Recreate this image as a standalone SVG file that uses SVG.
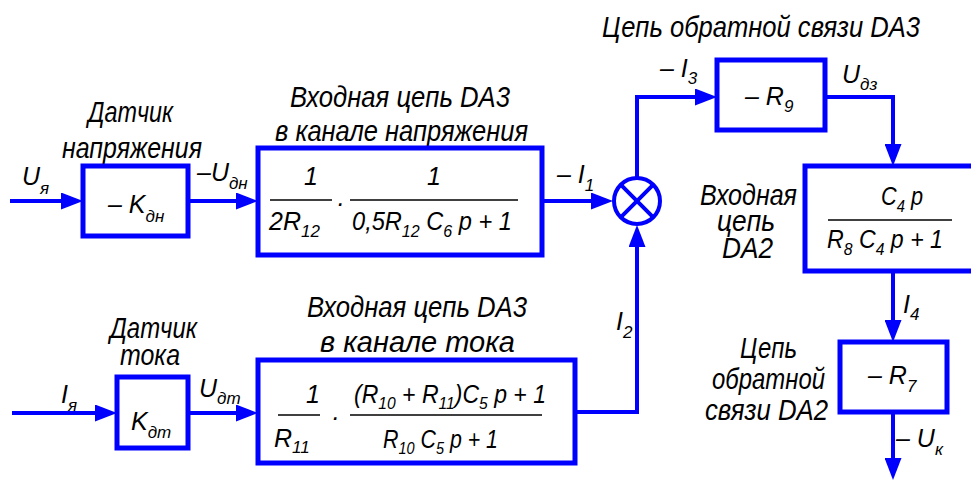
<svg xmlns="http://www.w3.org/2000/svg" width="971" height="480" viewBox="0 0 971 480">
<defs>
<style>
.ln{fill:none;stroke:#0000ff;stroke-width:4;stroke-linejoin:miter}
.bx{fill:#fff;stroke:#0000ff;stroke-width:5}
.fr{stroke:#000;stroke-width:1.6}
text{font-family:"Liberation Sans",Arial,sans-serif;font-style:italic;fill:#000}
.lb{font-size:29px}
.m{font-size:25px}
.s{font-size:17px}
</style>
<marker id="ar" markerUnits="userSpaceOnUse" viewBox="0 0 22 17" markerWidth="22" markerHeight="17" refX="14" refY="8.5" orient="auto">
<path d="M0,0 L22,8.5 L0,17z" fill="#0000ff"/>
</marker>
</defs>
<rect width="971" height="480" fill="#fff"/>

<g id="connectors">
<path class="ln" d="M10,201 H75" marker-end="url(#ar)"/>
<path class="ln" d="M188,201 H250" marker-end="url(#ar)"/>
<path class="ln" d="M542,201 H605" marker-end="url(#ar)"/>
<path class="ln" d="M637,178 V97 H709" marker-end="url(#ar)"/>
<path class="ln" d="M825,97 H893 V158" marker-end="url(#ar)"/>
<path class="ln" d="M893,271 V334" marker-end="url(#ar)"/>
<path class="ln" d="M893,412 V472" marker-end="url(#ar)"/>
<path class="ln" d="M12,413 H109" marker-end="url(#ar)"/>
<path class="ln" d="M188,413 H250" marker-end="url(#ar)"/>
<path class="ln" d="M575,412 H637 V233" marker-end="url(#ar)"/>
</g>

<g id="signal-labels">
<text class="m" x="22" y="185">U<tspan class="s" dy="9">я</tspan></text>
<text class="m" x="197" y="181">–U<tspan class="s" dy="8">дн</tspan></text>
<text class="m" x="557" y="183">– I<tspan class="s" dy="8">1</tspan></text>
<text class="m" x="660" y="77">– I<tspan class="s" dy="7">3</tspan></text>
<text class="m" x="842" y="83">U<tspan class="s" dy="7">дз</tspan></text>
<text class="m" x="903" y="313">I<tspan class="s" dy="7">4</tspan></text>
<text class="m" x="896" y="447">– U<tspan class="s" dy="8">к</tspan></text>
<text class="m" x="61" y="403">I<tspan class="s" dy="8">я</tspan></text>
<text class="m" x="199" y="397">U<tspan class="s" dy="7">дт</tspan></text>
<text class="m" x="616" y="330">I<tspan class="s" dy="8">2</tspan></text>
</g>

<g id="sensor-voltage">
<text class="lb" x="88" y="122" textLength="85" lengthAdjust="spacingAndGlyphs">Датчик</text>
<text class="lb" x="62" y="158" textLength="140" lengthAdjust="spacingAndGlyphs">напряжения</text>
<rect class="bx" x="83" y="166" width="105" height="70"/>
<text class="m" x="108" y="213">– K<tspan class="s" dy="9">дн</tspan></text>
</g>

<g id="input-da3-voltage">
<text class="lb" x="290" y="107" textLength="220" lengthAdjust="spacingAndGlyphs">Входная цепь DA3</text>
<text class="lb" x="275" y="141" textLength="253" lengthAdjust="spacingAndGlyphs">в канале напряжения</text>
<rect class="bx" x="258" y="148" width="284" height="107"/>
<text class="m" x="304" y="185">1</text>
<line class="fr" x1="270" y1="200" x2="332" y2="200"/>
<text class="m" x="269" y="230">2R<tspan class="s" dy="7">12</tspan></text>
<text class="m" x="336" y="212">·</text>
<line class="fr" x1="350" y1="200" x2="518" y2="200"/>
<text class="m" x="427" y="185">1</text>
<text class="m" x="352" y="230" textLength="160" lengthAdjust="spacingAndGlyphs">0,5R<tspan class="s" dy="7">12</tspan><tspan dy="-7"> C</tspan><tspan class="s" dy="7">6</tspan><tspan dy="-7"> p + 1</tspan></text>
</g>

<g id="summing-junction">
<circle cx="637" cy="201" r="23" fill="#fff" stroke="#0000ff" stroke-width="4"/>
<path class="ln" d="M620.7,184.7 L653.3,217.3 M653.3,184.7 L620.7,217.3"/>
</g>

<g id="feedback-da3">
<text class="lb" x="602" y="37" textLength="318" lengthAdjust="spacingAndGlyphs">Цепь обратной связи DA3</text>
<rect class="bx" x="717" y="60" width="108" height="70"/>
<text class="m" x="745" y="105">– R<tspan class="s" dy="7">9</tspan></text>
</g>

<g id="input-da2">
<text class="lb" x="700" y="205" textLength="97" lengthAdjust="spacingAndGlyphs">Входная</text>
<text class="lb" x="717" y="231" textLength="58" lengthAdjust="spacingAndGlyphs">цепь</text>
<text class="lb" x="722" y="258" textLength="51" lengthAdjust="spacingAndGlyphs">DA2</text>
<rect class="bx" x="805" y="166" width="180" height="105"/>
<text class="m" x="881" y="205" textLength="42" lengthAdjust="spacingAndGlyphs">C<tspan class="s" dy="7">4</tspan><tspan dy="-7"> p</tspan></text>
<line class="fr" x1="828" y1="220" x2="952" y2="220"/>
<text class="m" x="827" y="248" textLength="116" lengthAdjust="spacingAndGlyphs">R<tspan class="s" dy="7">8</tspan><tspan dy="-7"> C</tspan><tspan class="s" dy="7">4</tspan><tspan dy="-7"> p + 1</tspan></text>
</g>

<g id="feedback-da2">
<text class="lb" x="740" y="358" textLength="57" lengthAdjust="spacingAndGlyphs">Цепь</text>
<text class="lb" x="712" y="389" textLength="113" lengthAdjust="spacingAndGlyphs">обратной</text>
<text class="lb" x="705" y="420" textLength="123" lengthAdjust="spacingAndGlyphs">связи DA2</text>
<rect class="bx" x="840" y="342" width="107" height="70"/>
<text class="m" x="868" y="384">– R<tspan class="s" dy="8">7</tspan></text>
</g>

<g id="sensor-current">
<text class="lb" x="110" y="338" textLength="87" lengthAdjust="spacingAndGlyphs">Датчик</text>
<text class="lb" x="120" y="365" textLength="60" lengthAdjust="spacingAndGlyphs">тока</text>
<rect class="bx" x="117" y="377" width="71" height="71"/>
<text class="m" x="131" y="430">K<tspan class="s" dy="8">дт</tspan></text>
</g>

<g id="input-da3-current">
<text class="lb" x="307" y="317" textLength="220" lengthAdjust="spacingAndGlyphs">Входная цепь DA3</text>
<text class="lb" x="320" y="352" textLength="195" lengthAdjust="spacingAndGlyphs">в канале тока</text>
<rect class="bx" x="258" y="360" width="317" height="103"/>
<text class="m" x="306" y="403">1</text>
<line class="fr" x1="278" y1="415" x2="320" y2="415"/>
<text class="m" x="274" y="447">R<tspan class="s" dy="6">11</tspan></text>
<text class="m" x="331" y="426">·</text>
<line class="fr" x1="350" y1="415" x2="542" y2="415"/>
<text class="m" x="354" y="403" textLength="192" lengthAdjust="spacingAndGlyphs">(R<tspan class="s" dy="6">10</tspan><tspan dy="-6"> + R</tspan><tspan class="s" dy="6">11</tspan><tspan dy="-6">)C</tspan><tspan class="s" dy="6">5</tspan><tspan dy="-6"> p + 1</tspan></text>
<text class="m" x="383" y="448" textLength="115" lengthAdjust="spacingAndGlyphs">R<tspan class="s" dy="6">10</tspan><tspan dy="-6"> C</tspan><tspan class="s" dy="6">5</tspan><tspan dy="-6"> p + 1</tspan></text>
</g>
</svg>
